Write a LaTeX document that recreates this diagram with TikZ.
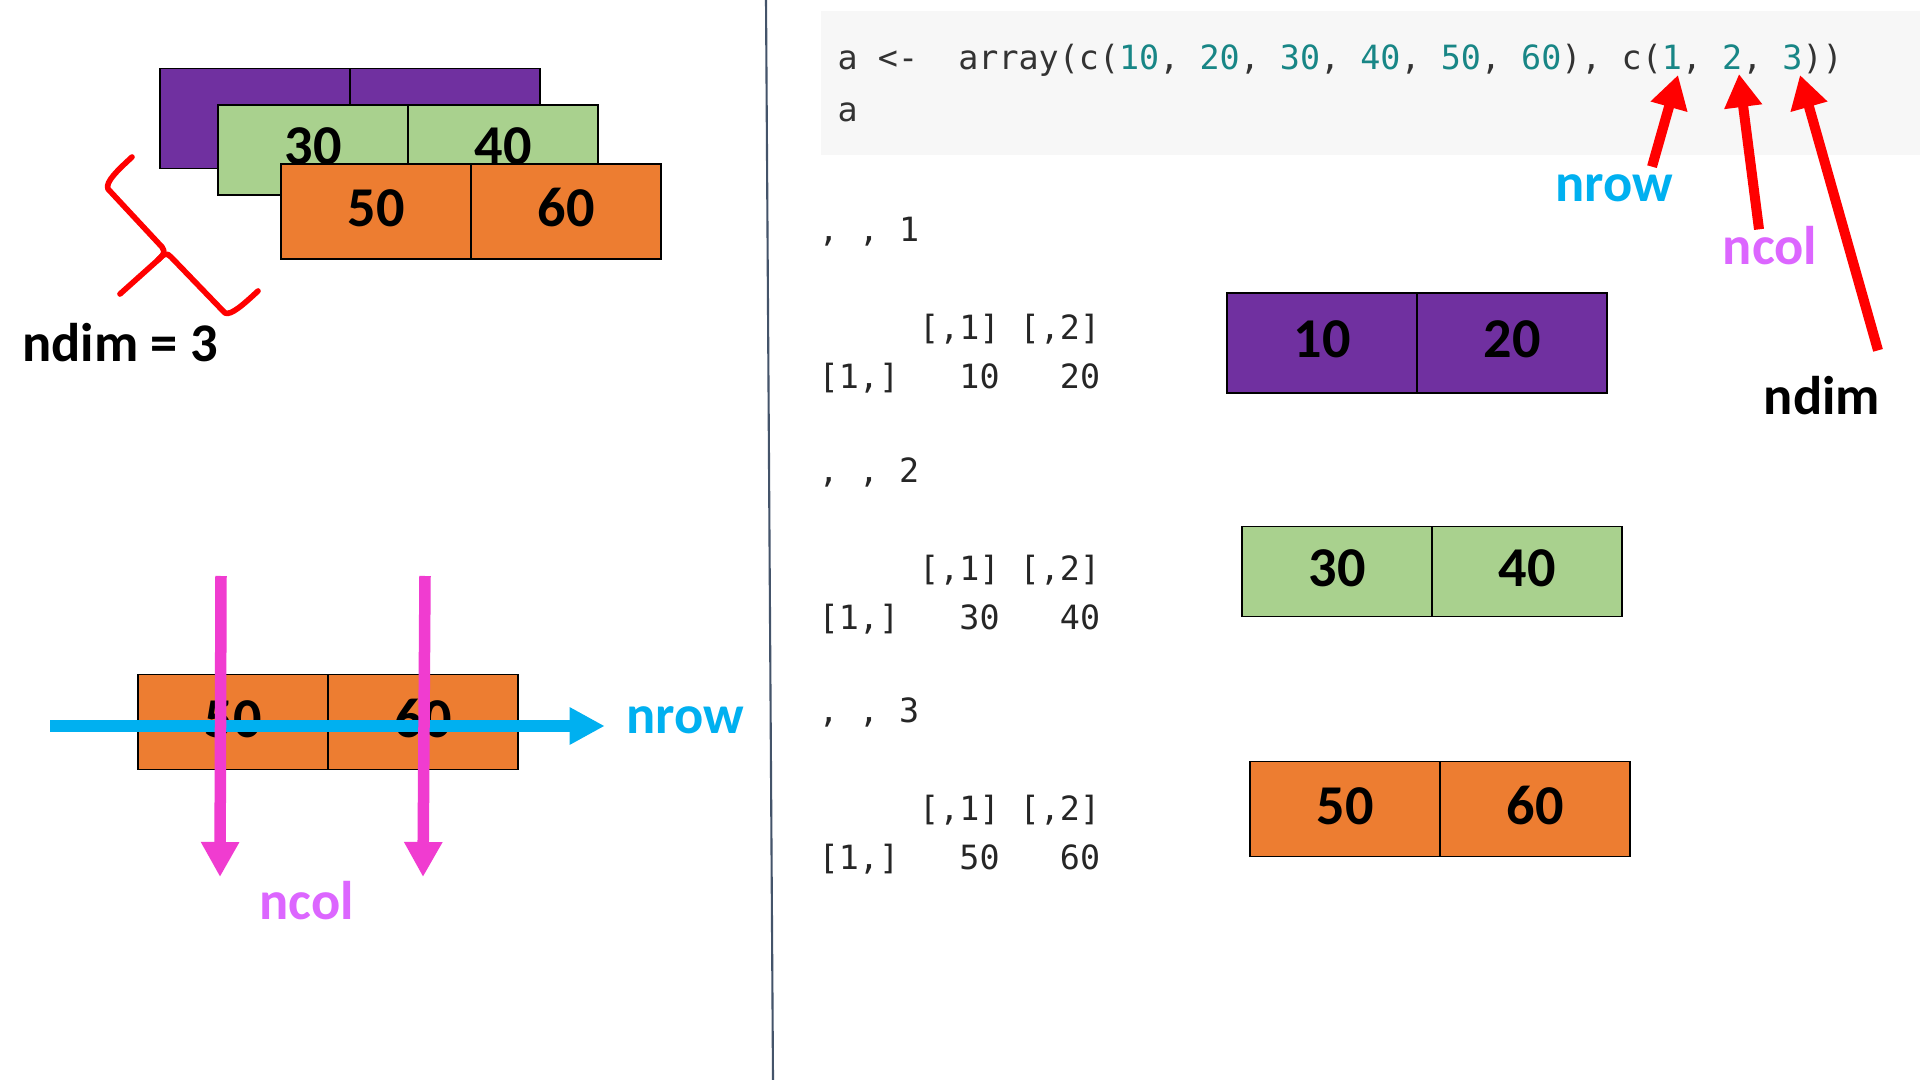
\documentclass[tikz,border=0pt]{standalone}
\usepackage{fontspec}
\newfontfamily\labelfont{Carlito}
\newfontfamily\codefont{DejaVu Sans Mono}
\usetikzlibrary{arrows.meta, positioning}
\definecolor{cellpurple}{RGB}{112, 48, 160}
\definecolor{cellgreen}{RGB}{169, 209, 142}
\definecolor{cellorange}{RGB}{237, 125, 49}
\definecolor{rowblue}{RGB}{0, 176, 240}
\definecolor{colpink}{RGB}{240, 60, 208}
\definecolor{colviolet}{RGB}{220, 102, 255}
\definecolor{dimred}{RGB}{255, 0, 0}
\definecolor{codeteal}{RGB}{24, 134, 134}
\definecolor{codegray}{RGB}{51, 51, 51}
\definecolor{codebg}{RGB}{247, 247, 247}
\definecolor{sepslate}{RGB}{68, 84, 106}
\newcommand{\cnum}[1]{\textcolor{codeteal}{#1}}
\tikzset{
  cell/.style={draw=black, line width=0.5pt, minimum width=1.9cm, inner sep=0pt, outer sep=0pt,
    text height=0.36cm, text depth=0.06cm, font=\labelfont\bfseries\fontsize{16pt}{18pt}\selectfont},
  purplecell/.style={cell, fill=cellpurple, minimum height=1cm},
  greencell/.style={cell, fill=cellgreen, minimum height=0.9cm},
  orangecell/.style={cell, fill=cellorange, minimum height=0.95cm},
  lbl/.style={font=\labelfont\bfseries\fontsize{15.5pt}{18pt}\selectfont, anchor=base},
  mono/.style={font=\codefont\fontsize{9.5pt}{12pt}\selectfont, anchor=base west, inner sep=0pt},
  rowarrow/.style={rowblue, line width=0.12cm, -{Triangle[length=0.35cm, width=0.35cm]}},
  colarrow/.style={colpink, line width=0.115cm, -{Triangle[length=0.35cm, width=0.36cm]}},
  dimarrow/.style={dimred, line width=0.1cm, -{Triangle[length=0.33cm, width=0.36cm]}},
}

\begin{document}
\begin{tikzpicture}
  \useasboundingbox (0, 0) rectangle (19.2, -10.8);
  \fill[white] (0, 0) rectangle (19.2, -10.8);

  % Stacked slices, top left
  \node[purplecell] (sp1) at (2.55, -1.185) {};
  \node[purplecell, right=0pt of sp1] (sp2) {};
  \node[greencell] (sg1) at (3.13, -1.50) {30};
  \node[greencell, right=0pt of sg1] (sg2) {40};
  \node[orangecell] (so1) at (3.76, -2.115) {50};
  \node[orangecell, right=0pt of so1] (so2) {60};

  % Brace and ndim label
  \draw[dimred, line width=1.6pt, line join=round, line cap=round]
    (1.32, -1.57) .. controls (1.18, -1.70) and (1.05, -1.82) .. (1.08, -1.89) -- (1.62, -2.47)
    .. controls (1.66, -2.52) and (1.63, -2.56) .. (1.58, -2.60) -- (1.20, -2.94);
  \draw[dimred, line width=1.6pt, line join=round, line cap=round]
    (1.58, -2.60) .. controls (1.63, -2.54) and (1.67, -2.52) .. (1.71, -2.57) -- (2.25, -3.13)
    .. controls (2.31, -3.16) and (2.45, -3.03) .. (2.58, -2.91);
  \node[lbl] (ndimL) at (1.20, -3.62) {ndim = 3};

  % One slice with its directions, bottom left
  \node[orangecell] (bo1) at (2.33, -7.22) {50};
  \node[orangecell, right=0pt of bo1] (bo2) {60};
  \node[lbl, text=rowblue] (nrowB) at (6.85, -7.33) {nrow};
  \node[lbl, text=colviolet] (ncolB) at (3.065, -9.19) {ncol};
  \coordinate (rowstart) at (0.50, -7.26);
  \draw[rowarrow, shorten >=0.09cm] (rowstart) -- (rowstart -| nrowB.west);
  \coordinate (colA) at (2.21, -5.76);
  \coordinate (colAend) at (2.20, -8.77);
  \coordinate (colB) at (4.25, -5.76);
  \coordinate (colBend) at (4.23, -8.77);
  \draw[colarrow] (colA) -- (colAend);
  \draw[colarrow] (colB) -- (colBend);

  % Separator
  \draw[sepslate, line width=0.6pt] (7.66, 0) -- (7.73, -10.8);

  % R code
  \node[fill=codebg, minimum width=11cm, minimum height=1.44cm, anchor=north west, inner sep=0pt] (codebox) at (8.20, -0.10) {};
  \node[mono, text=codegray] (codeA) at (8.37, -0.70)
    {a <-~~array(c(\cnum{10}, \cnum{20}, \cnum{30}, \cnum{40}, \cnum{50}, \cnum{60}), c(\cnum{1}, \cnum{2}, \cnum{3}))};
  \node[mono, text=codegray] (codeB) at (8.37, -1.22) {a};

  % Printed output
  \node[mono, text=black!85] (out1) at (8.18, -2.42) {, , 1};
  \node[mono, text=black!85] (hdr1) at (8.18, -3.40) {\phantom{[1,]}~[,1]~[,2]};
  \node[mono, text=black!85] (row1) at (8.18, -3.89) {[1,]~~~10~~~20};
  \node[mono, text=black!85] (out2) at (8.18, -4.82) {, , 2};
  \node[mono, text=black!85] (hdr2) at (8.18, -5.80) {\phantom{[1,]}~[,1]~[,2]};
  \node[mono, text=black!85] (row2) at (8.18, -6.29) {[1,]~~~30~~~40};
  \node[mono, text=black!85] (out3) at (8.18, -7.22) {, , 3};
  \node[mono, text=black!85] (hdr3) at (8.18, -8.20) {\phantom{[1,]}~[,1]~[,2]};
  \node[mono, text=black!85] (row3) at (8.18, -8.69) {[1,]~~~50~~~60};

  % Slices drawn as boxes
  \node[purplecell] (rp1) at (13.22, -3.43) {10};
  \node[purplecell, right=0pt of rp1] (rp2) {20};
  \node[greencell] (rg1) at (13.37, -5.715) {30};
  \node[greencell, right=0pt of rg1] (rg2) {40};
  \node[orangecell] (ro1) at (13.45, -8.09) {50};
  \node[orangecell, right=0pt of ro1] (ro2) {60};

  % Arguments of c(1, 2, 3)
  \node[lbl, text=rowblue] (nrowT) at (16.14, -2.02) {nrow};
  \node[lbl, text=colviolet] (ncolT) at (17.70, -2.65) {ncol};
  \node[lbl] (ndimT) at (18.22, -4.14) {ndim};
  \coordinate (tipRow) at (16.78, -0.75);
  \coordinate (tipCol) at (17.39, -0.74);
  \coordinate (tipDim) at (18.00, -0.75);
  \draw[dimarrow] ([shift={(0.38, -0.04)}]nrowT.north) -- (tipRow);
  \draw[dimarrow] ([shift={(-0.11, -0.15)}]ncolT.north) -- (tipCol);
  \draw[dimarrow] ([shift={(0.56, 0.13)}]ndimT.north) -- (tipDim);
\end{tikzpicture}
\end{document}
